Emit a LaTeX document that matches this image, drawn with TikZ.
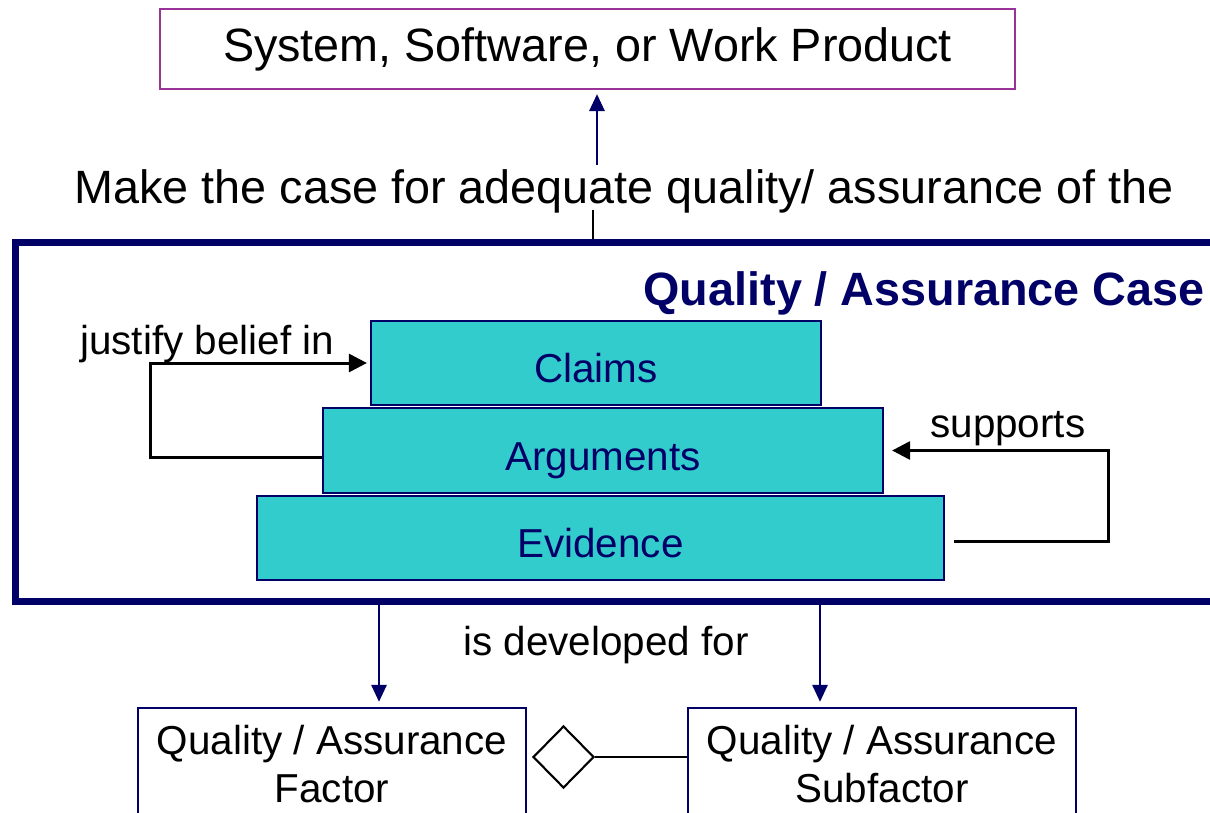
\documentclass[tikz,border=0pt]{standalone}
\usepackage{fontspec}
\setmainfont{Liberation Sans}
\usetikzlibrary{positioning,calc,arrows.meta,shapes.geometric}
\tikzset{>={Triangle[length=0.34cm,width=0.30cm]}}
\definecolor{navy}{RGB}{0,0,102}
\definecolor{plum}{RGB}{153,51,153}
\definecolor{layerfill}{RGB}{51,204,204}
\newcommand*{\bigtext}{\fontsize{26.6}{30}\selectfont}
\newcommand*{\smalltext}{\fontsize{23}{27.3}\selectfont}

\begin{document}
\begin{tikzpicture}[x=0.02cm,y=-0.02cm,
  prodbox/.style={draw=plum,line width=1.2pt,inner sep=0pt,
    minimum width=17.1cm,minimum height=1.6cm,font=\bigtext},
  caseframe/.style={draw=navy,line width=4pt,inner sep=0pt},
  layer/.style={draw=navy,line width=1.3pt,fill=layerfill,text=navy,
    font=\smalltext,inner sep=0pt,text height=0.78cm,text depth=0pt},
  factorbox/.style={draw=navy,line width=1.3pt,fill=white,font=\smalltext,
    align=center,inner sep=0pt,minimum width=7.76cm,minimum height=2.24cm},
  aggregation/.style={diamond,draw,line width=1.2pt,fill=white,inner sep=0pt,
    minimum width=1.22cm,minimum height=1.24cm},
  tag/.style={font=\smalltext,inner sep=0pt},
  navyarrow/.style={->,draw=navy,line width=1.6pt},
  blackarrow/.style={->,line width=1.7pt,>={Triangle[length=0.36cm,width=0.36cm]}},
  thinline/.style={line width=1.2pt}]
\useasboundingbox (0,0) rectangle (1210,812);
\clip (0,0) rectangle (1210,812);

% Work product on top
\node[prodbox] (product) at (587.5,49) {System, Software, or Work Product};
\node[font=\bigtext,anchor=base,inner sep=0pt] (make) at (624,203)
  {Make the case for adequate quality/ assurance of the};
\coordinate (uptail) at (597,165);
\draw[navyarrow,shorten >=0.08cm] (uptail) -- (uptail |- product.south);

% The case itself
\node[caseframe,minimum width=24.49cm,minimum height=7.19cm] (qacase) at (627.75,422.25) {};
\coordinate (downtail) at (593,210);
\draw[thinline] (downtail) -- (downtail |- qacase.north);
\node[font=\bfseries\bigtext,text=navy,anchor=base east,inner sep=0pt] (title) at (1205,305)
  {Quality / Assurance Case};

\node[layer,minimum width=9cm,minimum height=1.68cm] (claims) at (596,363) {Claims};
\node[layer,minimum width=11.2cm,minimum height=1.7cm] (arguments) at (603,450.5) {Arguments};
\node[layer,minimum width=13.74cm,minimum height=1.68cm] (evidence) at (600.5,538) {Evidence};

\node[tag,anchor=base west] (justify) at (80,354) {justify belief in};
\node[tag,anchor=base west] (supports) at (930,437) {supports};

\draw[blackarrow,shorten >=0.06cm] ([yshift=-0.14cm]arguments.west) -- ++(-171,0) |- (claims.west);
\draw[blackarrow,shorten >=0.16cm] ([xshift=0.18cm,yshift=-0.06cm]evidence.east)
  -- ++(154,0) |- (arguments.east);

% What it is developed for
\node[tag,anchor=base] (developed) at (606,655) {is developed for};
\node[factorbox] (factor) at (332,764) {Quality / Assurance\\Factor};
\node[factorbox] (subfactor) at (882,764) {Quality / Assurance\\Subfactor};
\node[aggregation] (whole) at (563.5,757) {};
\draw[thinline] (whole.east) -- (whole.east -| subfactor.west);

\coordinate (leftfoot) at (379,602);
\coordinate (rightfoot) at (820,602);
\draw[navyarrow,shorten >=0.1cm] (leftfoot) -- (leftfoot |- factor.north);
\draw[navyarrow,shorten >=0.1cm] (rightfoot) -- (rightfoot |- subfactor.north);

\end{tikzpicture}
\end{document}
